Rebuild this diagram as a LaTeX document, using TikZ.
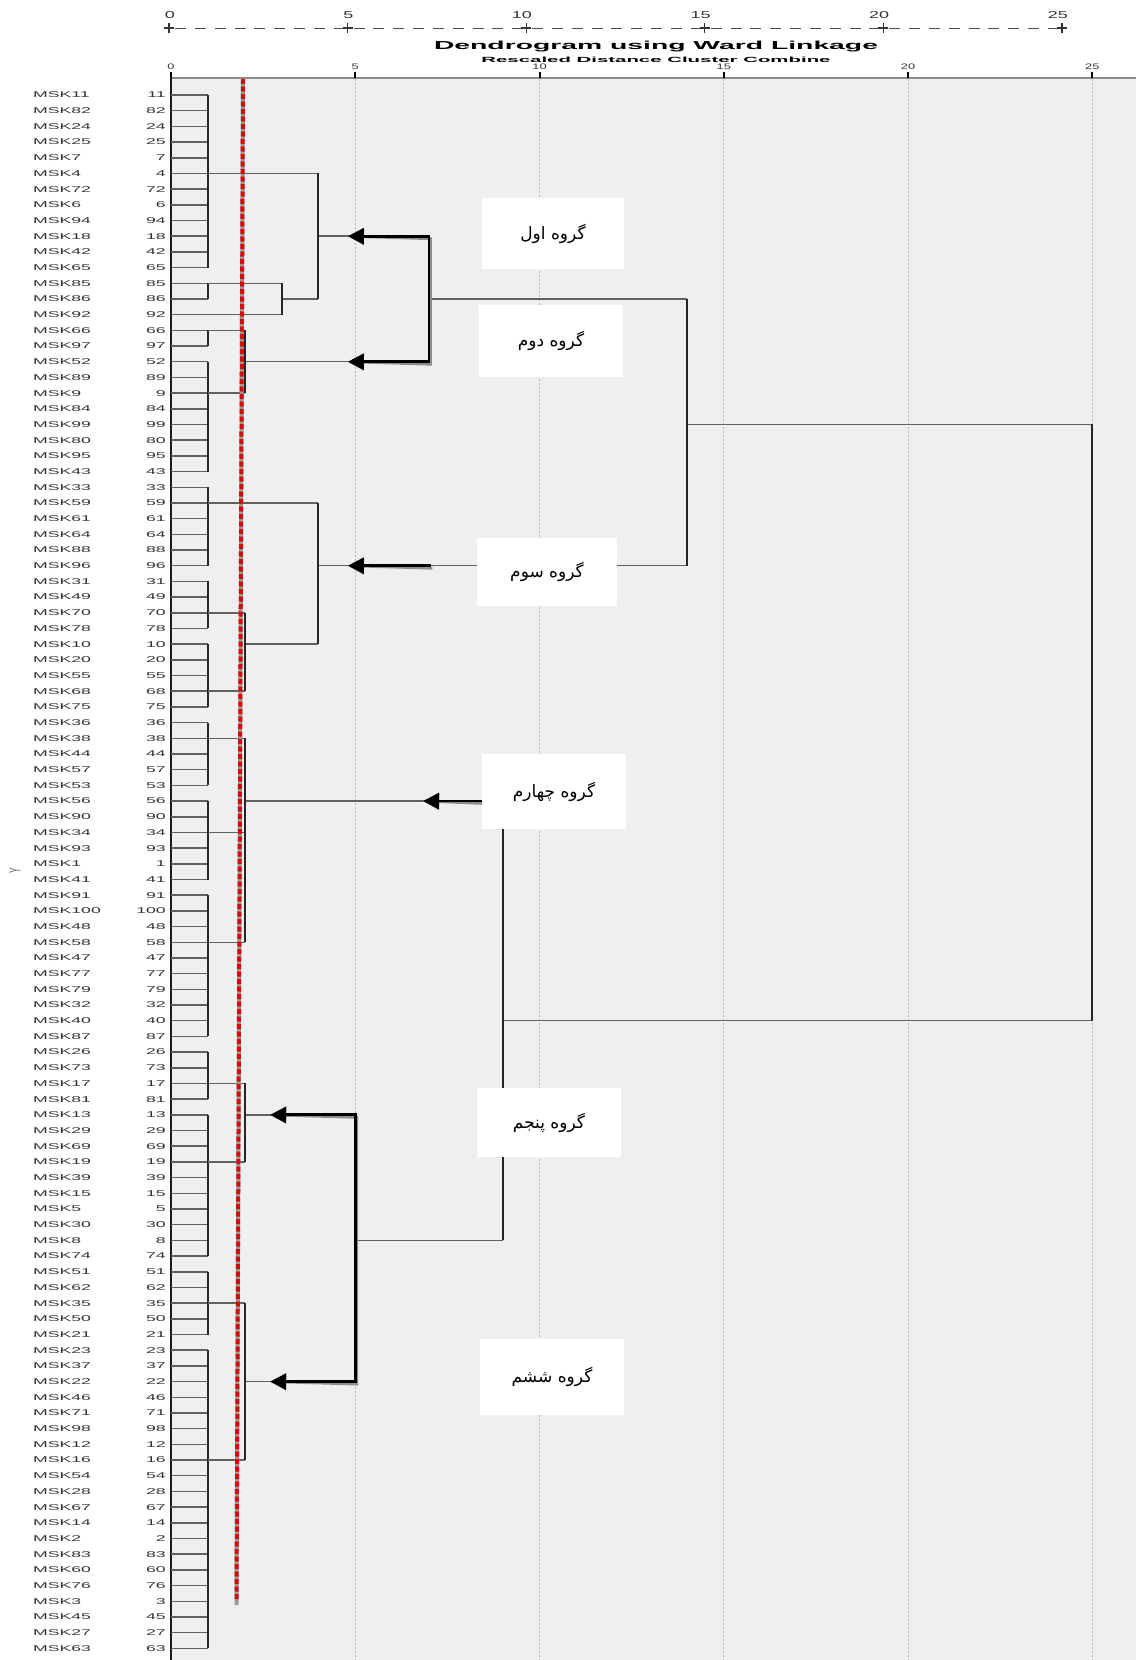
\documentclass[tikz,border=0pt]{standalone}
\usepackage{fontspec}
\setmainfont{Liberation Sans}
\newfontfamily\farsifont[Script=Arabic]{DejaVu Sans}
\TeXXeTstate=1
\usetikzlibrary{arrows.meta}

\definecolor{plotbg}{RGB}{239,239,239}
\definecolor{cutred}{RGB}{215,10,10}

% SPSS output text is stretched sideways
\newcommand{\spss}[2][2.1]{\scalebox{#1}[1]{#2}}

\tikzset{
  bigtip/.tip={Triangle[length=16pt,width=16pt]},
  hline/.style={draw=black!62, line width=1.5pt},
  vline/.style={draw=black!85, line width=2pt},
  gridline/.style={draw=black!30, line width=1pt, dash pattern=on 1.5pt off 2.5pt},
  pointer/.style={draw=black, line width=2.8pt, line join=miter},
  pointershadow/.style={pointer, draw=black!45, xshift=1.5pt, yshift=-2.5pt},
  leafname/.style={font=\fontsize{8.4}{10}\selectfont, text=black!80, inner sep=0pt},
  grpbox/.style={fill=white, inner sep=0pt, font=\farsifont\fontsize{17}{20}\selectfont},
}

\begin{document}
\begin{tikzpicture}[x=1pt, y=-1pt]
\useasboundingbox (0,0) rectangle (1136,1660);

% top ruler
\foreach \v [count=\k from 0] in {0,5,10,15,20,25}
  \node[leafname, font=\fontsize{10}{12}\selectfont, anchor=east] (top\v) at ({169+178.6*\k+6},15) {\spss[1.8]{\v}};
\draw[black!70, line width=1pt, dash pattern=on 11pt off 8.84pt] (175,28) -- (1062,28);
\foreach \k in {0,...,5}
  \draw[black!80, line width=1.2pt] ({169+178.6*\k-5},28) -- ++(10,0) ({169+178.6*\k},23) -- ++(0,10);

\node (title) at (656,47) {\bfseries\fontsize{11.6}{13}\selectfont\spss[2.44]{Dendrogram using Ward Linkage}};
\node (subtitle) at (656,60) {\bfseries\fontsize{7.5}{9}\selectfont\spss[2.72]{Rescaled Distance Cluster Combine}};

% plot area
\fill[plotbg] (171,78) rectangle (1136,1660);
\draw[black!45, line width=2.5pt] (171,78) -- (1136,78);
\foreach \d in {0,5,...,25} {
  \draw[black, line width=2pt] ({171+36.85*\d},72) -- ++(0,6);
  \node[leafname, font=\fontsize{8}{9}\selectfont] (ax\d) at ({171+36.85*\d},67) {\spss[1.6]{\d}};
}
\draw[black!90, line width=2pt] (171,77) -- (171,1660);
\node[leafname, text=black!60] (ylab) at (15,871) {\scalebox{2}[1]{\rotatebox{90}{Y}}};

% case labels
\foreach \nm [count=\r] in {11,82,24,25,7,4,72,6,94,18,42,65,85,86,92,66,97,52,89,9,84,99,80,95,43,33,59,61,64,88,96,31,49,70,78,10,20,55,68,75,36,38,44,57,53,56,90,34,93,1,41,91,100,48,58,47,77,79,32,40,87,26,73,17,81,13,29,69,19,39,15,5,30,8,74,51,62,35,50,21,23,37,22,46,71,98,12,16,54,28,67,14,2,83,60,76,3,45,27,63} {
  \node[leafname, anchor=west] (msk\nm) at (33,{79.31+15.69*\r}) {\spss{MSK\nm}};
  \node[leafname, anchor=east] (id\nm) at (166,{79.31+15.69*\r}) {\spss{\nm}};
}

% tree: x = rescaled distance, y = row
\begin{scope}[shift={(171,79.31)}, x=36.85pt, y=-15.69pt]
  \foreach \d in {5,10,...,25}
    \draw[gridline] (\d,0) -- (\d,100.8);
  \foreach \r in {1,...,100}
    \draw[hline] (0,\r) -- (1,\r);
  \foreach \a/\b in {1/12,13/14,16/17,18/25,26/31,32/35,36/40,41/45,46/51,52/61,62/65,66/75,76/80,81/100}
    \draw[vline] (1,\a) -- (1,\b);
  \foreach \r/\a/\b in {6/1/4,13/1/3,15/1/3,16/1/2,20/1/2,27/1/4,34/1/2,39/1/2,42/1/2,48/1/2,55/1/2,64/1/2,69/1/2,78/1/2,88/1/2,
      14/3/4,10/4/7,18/2/7,14/7/14,36/2/4,31/4/14,22/14/25,46/2/9,66/2/5,83/2/5,74/5/9,60/9/25}
    \draw[hline] (\a,\r) -- (\b,\r);
  \foreach \d/\a/\b in {3/13/15,4/6/14,2/16/20,14/14/31,2/34/39,4/27/36,2/42/55,2/64/69,2/78/88,9/46/74,25/22/60}
    \draw[vline] (\d,\a) -- (\d,\b);

  \coordinate (tip1) at (4.8,10);
  \coordinate (tip2) at (4.8,18);
  \coordinate (tip3) at (4.8,31);
  \coordinate (tip4) at (6.84,46);
  \coordinate (tip5) at (2.69,66);
  \coordinate (tip6) at (2.69,83);
\end{scope}

% cut line
\draw[black!40, line width=4pt] (243,79) -- (236.5,1605);
\draw[cutred, line width=4pt, dash pattern=on 5pt off 2.5pt] (243,79) -- (236.5,1600);

% pointers
\begin{scope}[shift={(171,79.31)}, x=36.85pt, y=-15.69pt]
  \foreach \s in {pointershadow,pointer} {
    \draw[\s, bigtip-bigtip] (tip1) -- (7,10) -- (7,18) -- (tip2);
    \draw[\s, -bigtip] (7.05,31) -- (tip3);
    \draw[\s, -bigtip] (8.5,46) -- (tip4);
    \draw[\s, bigtip-bigtip] (tip5) -- (5,66) -- (5,83) -- (tip6);
  }
\end{scope}

% group labels
\node[grpbox, minimum width=142pt, minimum height=71pt] (g1) at (553,233.5) {\beginR گروه اول\endR};
\node[grpbox, minimum width=144pt, minimum height=72pt] (g2) at (551,341) {\beginR گروه دوم\endR};
\node[grpbox, minimum width=140pt, minimum height=68pt] (g3) at (547,572) {\beginR گروه سوم\endR};
\node[grpbox, minimum width=144pt, minimum height=75pt] (g4) at (554,791.5) {\beginR گروه چهارم\endR};
\node[grpbox, minimum width=144pt, minimum height=69pt] (g5) at (549,1122.5) {\beginR گروه پنجم\endR};
\node[grpbox, minimum width=144pt, minimum height=76pt] (g6) at (552,1377) {\beginR گروه ششم\endR};
\end{tikzpicture}
\end{document}
